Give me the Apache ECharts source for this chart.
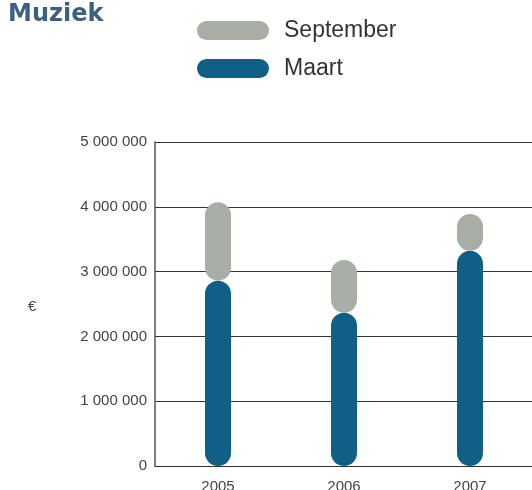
<!DOCTYPE html>
<html>
<head>
<meta charset="utf-8">
<script src="https://cdn.jsdelivr.net/npm/echarts@6/dist/echarts.min.js"></script>
<style>html,body{margin:0;padding:0;background:#fff;overflow:hidden;}#c{width:532px;height:490px;}</style>
</head>
<body>
<div id="c"></div>
<script>
var categories = ['2005', '2006', '2007'];
var maart = [2860000, 2365000, 3320000];
var september = [1210000, 815000, 570000];
var yTicks = [0, 1000000, 2000000, 3000000, 4000000, 5000000];

var chart = echarts.init(document.getElementById('c'), null, {renderer: 'canvas'});
var pill = 'path://M9.5,0 H62.5 A9.5,9.5 0 0 1 62.5,19 H9.5 A9.5,9.5 0 0 1 9.5,0 Z';
chart.setOption({
  animation: false,
  backgroundColor: '#ffffff',
  title: {
    text: 'Muziek', left: 3, top: -2,
    textStyle: {fontFamily: 'DejaVu Sans', fontSize: 24, fontWeight: 'bold', color: '#3d6080'}
  },
  legend: {
    data: ['September', 'Maart'],
    orient: 'vertical', left: 192, top: 14,
    itemWidth: 72, itemHeight: 19, itemGap: 15,
    icon: pill,
    textStyle: {fontFamily: 'Liberation Sans', fontSize: 23, color: '#333333', padding: [0, 0, 0, 10]}
  },
  graphic: [{
    type: 'text', left: 28, top: 299,
    style: {text: '€', font: '15px "Liberation Sans"', fill: '#444444'}
  }],
  grid: {left: 155, right: -1, top: 142, height: 324, containLabel: false, outerBoundsMode: 'none'},
  xAxis: {
    type: 'category', data: categories,
    axisLine: {lineStyle: {color: '#333333', width: 1}},
    axisTick: {show: false},
    axisLabel: {margin: 13, fontFamily: 'Liberation Sans', fontSize: 15, color: '#444444'}
  },
  yAxis: {
    type: 'value', min: 0, max: 5000000, interval: 1000000,
    axisLine: {show: true, lineStyle: {color: '#555555', width: 1.5}},
    axisTick: {show: false},
    splitLine: {lineStyle: {color: '#333333', width: 1}},
    axisLabel: {
      margin: 8, fontFamily: 'Liberation Sans', fontSize: 15, color: '#444444',
      formatter: function (v) {
        if (yTicks.indexOf(v) < 0) return '';
        return String(v).replace(/\B(?=(\d{3})+(?!\d))/g, ' ');
      }
    }
  },
  series: [
    {name: 'Maart', type: 'bar', stack: 's', data: maart, barWidth: 26,
     itemStyle: {color: '#0f5f87', borderRadius: 13}},
    {name: 'September', type: 'bar', stack: 's', data: september, barWidth: 26,
     itemStyle: {color: '#a8ada6', borderRadius: 13}}
  ]
});
</script>
</body>
</html>
